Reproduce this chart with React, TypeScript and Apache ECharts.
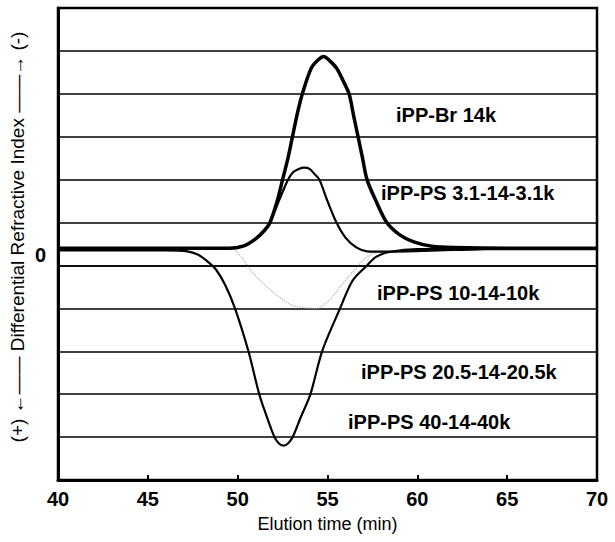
import React, { useEffect, useRef } from "react";
import * as echarts from "echarts";

const xTicks = [40, 45, 50, 55, 60, 65, 70];

const brTime = [40, 45, 49.5, 50.3, 51.0, 51.5, 51.8, 52.2, 52.5, 52.8, 53.05, 53.3, 53.6, 54.1, 54.5, 54.8, 55.1, 55.5, 55.85, 56.2, 56.45, 56.7, 56.95, 57.2, 57.7, 58.3, 59.0, 59.8, 60.8, 62, 66, 70];
const brValue = [0.40, 0.40, 0.40, 0.45, 0.62, 0.82, 1.0, 1.5, 2.0, 2.5, 3.0, 3.5, 4.0, 4.6, 4.8, 4.87, 4.78, 4.6, 4.32, 4.0, 3.5, 3.0, 2.5, 2.0, 1.5, 1.0, 0.72, 0.55, 0.45, 0.42, 0.40, 0.40];

const ps3Time = [40, 45, 49.5, 50.3, 51.0, 51.5, 51.8, 52.33, 52.8, 53.1, 53.4, 53.7, 54.0, 54.3, 54.55, 55.0, 55.5, 56.0, 56.6, 57.2, 58, 62, 66, 70];
const ps3Value = [0.40, 0.40, 0.40, 0.45, 0.62, 0.82, 1.0, 1.54, 2.0, 2.18, 2.25, 2.28, 2.25, 2.12, 2.0, 1.5, 1.0, 0.65, 0.42, 0.33, 0.32, 0.36, 0.40, 0.40];

const ps10Time = [49.8, 50.2, 50.8, 51.5, 52.2, 52.9, 53.6, 54.4, 55.1, 55.8, 56.5, 57.2, 58];
const ps10Value = [0.38, 0.2, -0.15, -0.45, -0.7, -0.9, -0.98, -1.0, -0.8, -0.45, -0.1, 0.2, 0.33];

const ps40Time = [40, 46, 47.2, 47.8, 48.3, 48.8, 49.3, 49.85, 50.6, 51.2, 51.6, 52.05, 52.3, 52.55, 52.8, 53.06, 53.5, 54.05, 54.7, 55.7, 56.4, 57.2, 57.7, 58.5, 60, 70];
const ps40Value = [0.35, 0.35, 0.33, 0.25, 0.1, -0.1, -0.45, -1.0, -2.0, -3.0, -3.5, -4.0, -4.15, -4.2, -4.15, -4.0, -3.55, -3.0, -2.0, -1.0, -0.35, 0.0, 0.2, 0.32, 0.38, 0.38];

const seriesLabels = [
  "iPP-Br 14k",
  "iPP-PS 3.1-14-3.1k",
  "iPP-PS 10-14-10k",
  "iPP-PS 20.5-14-20.5k",
  "iPP-PS 40-14-40k",
];

const yTitle = "(+) \u2190\u2014\u2014 Differential Refractive Index \u2014\u2014\u2192 (-)";

const zip = (t: number[], v: number[]) => t.map((x, i) => [x, v[i]]);

const FONT = "'Liberation Sans', Arial, sans-serif";

export default function App() {
  const ref = useRef<HTMLDivElement>(null);
  useEffect(() => {
    if (!ref.current) return;
    const chart = echarts.init(ref.current, undefined, { renderer: "svg" });
    const labelPos = [
      [396, 115],
      [381, 193],
      [377, 293],
      [361, 372],
      [348, 422],
    ];
    chart.setOption({
      animation: false,
      backgroundColor: "#fff",
      grid: {
        left: 58,
        right: 18,
        top: 8,
        bottom: 62,
        show: true,
        borderColor: "#000",
        borderWidth: 2.5,
      },
      xAxis: {
        type: "value",
        min: xTicks[0],
        max: xTicks[xTicks.length - 1],
        interval: 5,
        name: "Elution time (min)",
        nameLocation: "middle",
        nameGap: 35,
        nameTextStyle: { fontFamily: FONT, fontSize: 18, color: "#000" },
        axisLine: { onZero: false, lineStyle: { color: "#000", width: 3 } },
        axisTick: { inside: true, length: 5, lineStyle: { color: "#000", width: 2 } },
        axisLabel: { fontFamily: FONT, fontSize: 20, fontWeight: "bold", color: "#000", margin: 9 },
        splitLine: { show: false },
      },
      yAxis: {
        type: "value",
        min: -5,
        max: 6,
        interval: 1,
        axisLine: { onZero: false, lineStyle: { color: "#000", width: 3 } },
        axisTick: { show: false },
        axisLabel: {
          fontFamily: FONT,
          fontSize: 20,
          fontWeight: "bold",
          color: "#000",
          margin: 12,
          verticalAlign: "bottom",
          formatter: (v: number) => (v === 0 ? "0" : ""),
        },
        splitLine: { show: true, lineStyle: { color: "#000", width: 1.5 } },
      },
      series: [
        {
          type: "line",
          data: zip(ps10Time, ps10Value),
          smooth: 0.3,
          symbol: "none",
          lineStyle: { color: "#b0b0b0", width: 1.2, type: "dotted" },
          markLine: {
            silent: true,
            symbol: "none",
            label: { show: false },
            lineStyle: { color: "#000", width: 1.5, type: "solid" },
            data: [{ yAxis: 0 }],
          },
        },
        {
          type: "line",
          data: zip(ps40Time, ps40Value),
          smooth: 0.3,
          symbol: "none",
          lineStyle: { color: "#000", width: 2.2 },
        },
        {
          type: "line",
          data: zip(ps3Time, ps3Value),
          smooth: 0.3,
          symbol: "none",
          lineStyle: { color: "#000", width: 2.2 },
        },
        {
          type: "line",
          data: zip(brTime, brValue),
          smooth: 0.3,
          symbol: "none",
          lineStyle: { color: "#000", width: 3.5 },
        },
      ],
      graphic: [
        ...seriesLabels.map((t, i) => ({
          type: "text",
          x: labelPos[i][0],
          y: labelPos[i][1],
          style: {
            text: t,
            fontFamily: FONT,
            fontSize: 20,
            fontWeight: "bold",
            fill: "#000",
            verticalAlign: "middle",
          },
        })),
        {
          type: "text",
          x: 17,
          y: 237,
          rotation: Math.PI / 2,
          style: {
            text: yTitle,
            fontFamily: FONT,
            fontSize: 19,
            fill: "#000",
            align: "center",
            verticalAlign: "middle",
          },
        },
      ],
    });
    return () => chart.dispose();
  }, []);
  return <div ref={ref} style={{ width: 615, height: 542, position: "absolute", left: 0, top: 0 }} />;
}
